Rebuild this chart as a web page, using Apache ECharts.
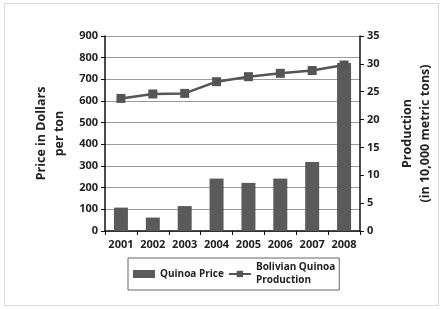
<!DOCTYPE html>
<html>
<head>
<meta charset="utf-8">
<script src="https://cdn.jsdelivr.net/npm/echarts@6/dist/echarts.min.js"></script>
<style>
  html, body { margin: 0; padding: 0; background: #fff; }
  #main { width: 442px; height: 309px; }
</style>
</head>
<body>
<div id="main"></div>
<script>
// data
var years = ["2001", "2002", "2003", "2004", "2005", "2006", "2007", "2008"];
var price = [108, 62, 115, 242, 222, 242, 318, 775];
var production = [23.8, 24.6, 24.7, 26.8, 27.7, 28.3, 28.8, 29.8];

var font = "'Open Sans', 'Liberation Sans', sans-serif";
var chart = echarts.init(document.getElementById("main"));

var option = {
  animation: false,
  backgroundColor: "#fff",
  textStyle: { fontFamily: font },
  graphic: [
    {
      type: "rect",
      shape: { x: 4.5, y: 3.5, width: 434, height: 302 },
      style: { fill: "none", stroke: "#d9d9d9", lineWidth: 1 }
    }
  ],
  grid: { left: 105, right: 76, top: 36, bottom: 78 },
  legend: {
    left: 128,
    top: 258,
    width: 320,
    orient: "horizontal",
    padding: [3, 4, 3, 5],
    borderColor: "#666",
    borderWidth: 1,
    itemGap: 4,
    itemWidth: 22,
    itemHeight: 8,
    textStyle: { fontFamily: font, fontWeight: "bold", fontSize: 10, color: "#222", lineHeight: 13 },
    data: [
      { name: "Quinoa Price", icon: "rect" },
      { name: "Bolivian Quinoa\nProduction" }
    ]
  },
  xAxis: {
    type: "category",
    data: years,
    axisLine: { lineStyle: { color: "#111", width: 1.5 } },
    axisTick: { show: true, lineStyle: { color: "#111" }, length: 4 },
    axisLabel: { interval: 0, color: "#222", fontWeight: "bold", fontSize: 11, fontFamily: font, margin: 8 }
  },
  yAxis: [
    {
      type: "value",
      min: 0,
      max: 900,
      interval: 100,
      name: "Price in Dollars\nper ton",
      nameLocation: "middle",
      nameRotate: 90,
      nameGap: 36,
      nameTextStyle: { fontWeight: "bold", fontSize: 12.5, color: "#222", lineHeight: 18, fontFamily: font },
      axisLine: { show: true, lineStyle: { color: "#111", width: 1.5 } },
      axisTick: { show: true, lineStyle: { color: "#111" }, length: 4 },
      axisLabel: { color: "#222", fontWeight: "bold", fontSize: 11, fontFamily: font, margin: 7 },
      splitLine: { show: true, lineStyle: { color: "#9a9a9a", width: 1 } }
    },
    {
      type: "value",
      min: 0,
      max: 35,
      interval: 5,
      name: "Production\n(in 10,000 metric tons)",
      nameLocation: "middle",
      nameRotate: 90,
      nameGap: 38,
      nameTextStyle: { fontWeight: "bold", fontSize: 12.5, color: "#222", lineHeight: 18, fontFamily: font },
      axisLine: { show: true, lineStyle: { color: "#111", width: 1.5 } },
      axisTick: { show: true, lineStyle: { color: "#111" }, length: 4 },
      axisLabel: { color: "#222", fontWeight: "bold", fontSize: 11, fontFamily: font, margin: 7 },
      splitLine: { show: false }
    }
  ],
  series: [
    {
      name: "Quinoa Price",
      type: "bar",
      yAxisIndex: 0,
      data: price,
      barWidth: 14,
      itemStyle: { color: "#5a5a5a" }
    },
    {
      name: "Bolivian Quinoa\nProduction",
      type: "line",
      yAxisIndex: 1,
      data: production,
      symbol: "rect",
      symbolSize: 9,
      lineStyle: { color: "#555", width: 2.5 },
      itemStyle: { color: "#555" }
    }
  ]
};

chart.setOption(option);
</script>
</body>
</html>
